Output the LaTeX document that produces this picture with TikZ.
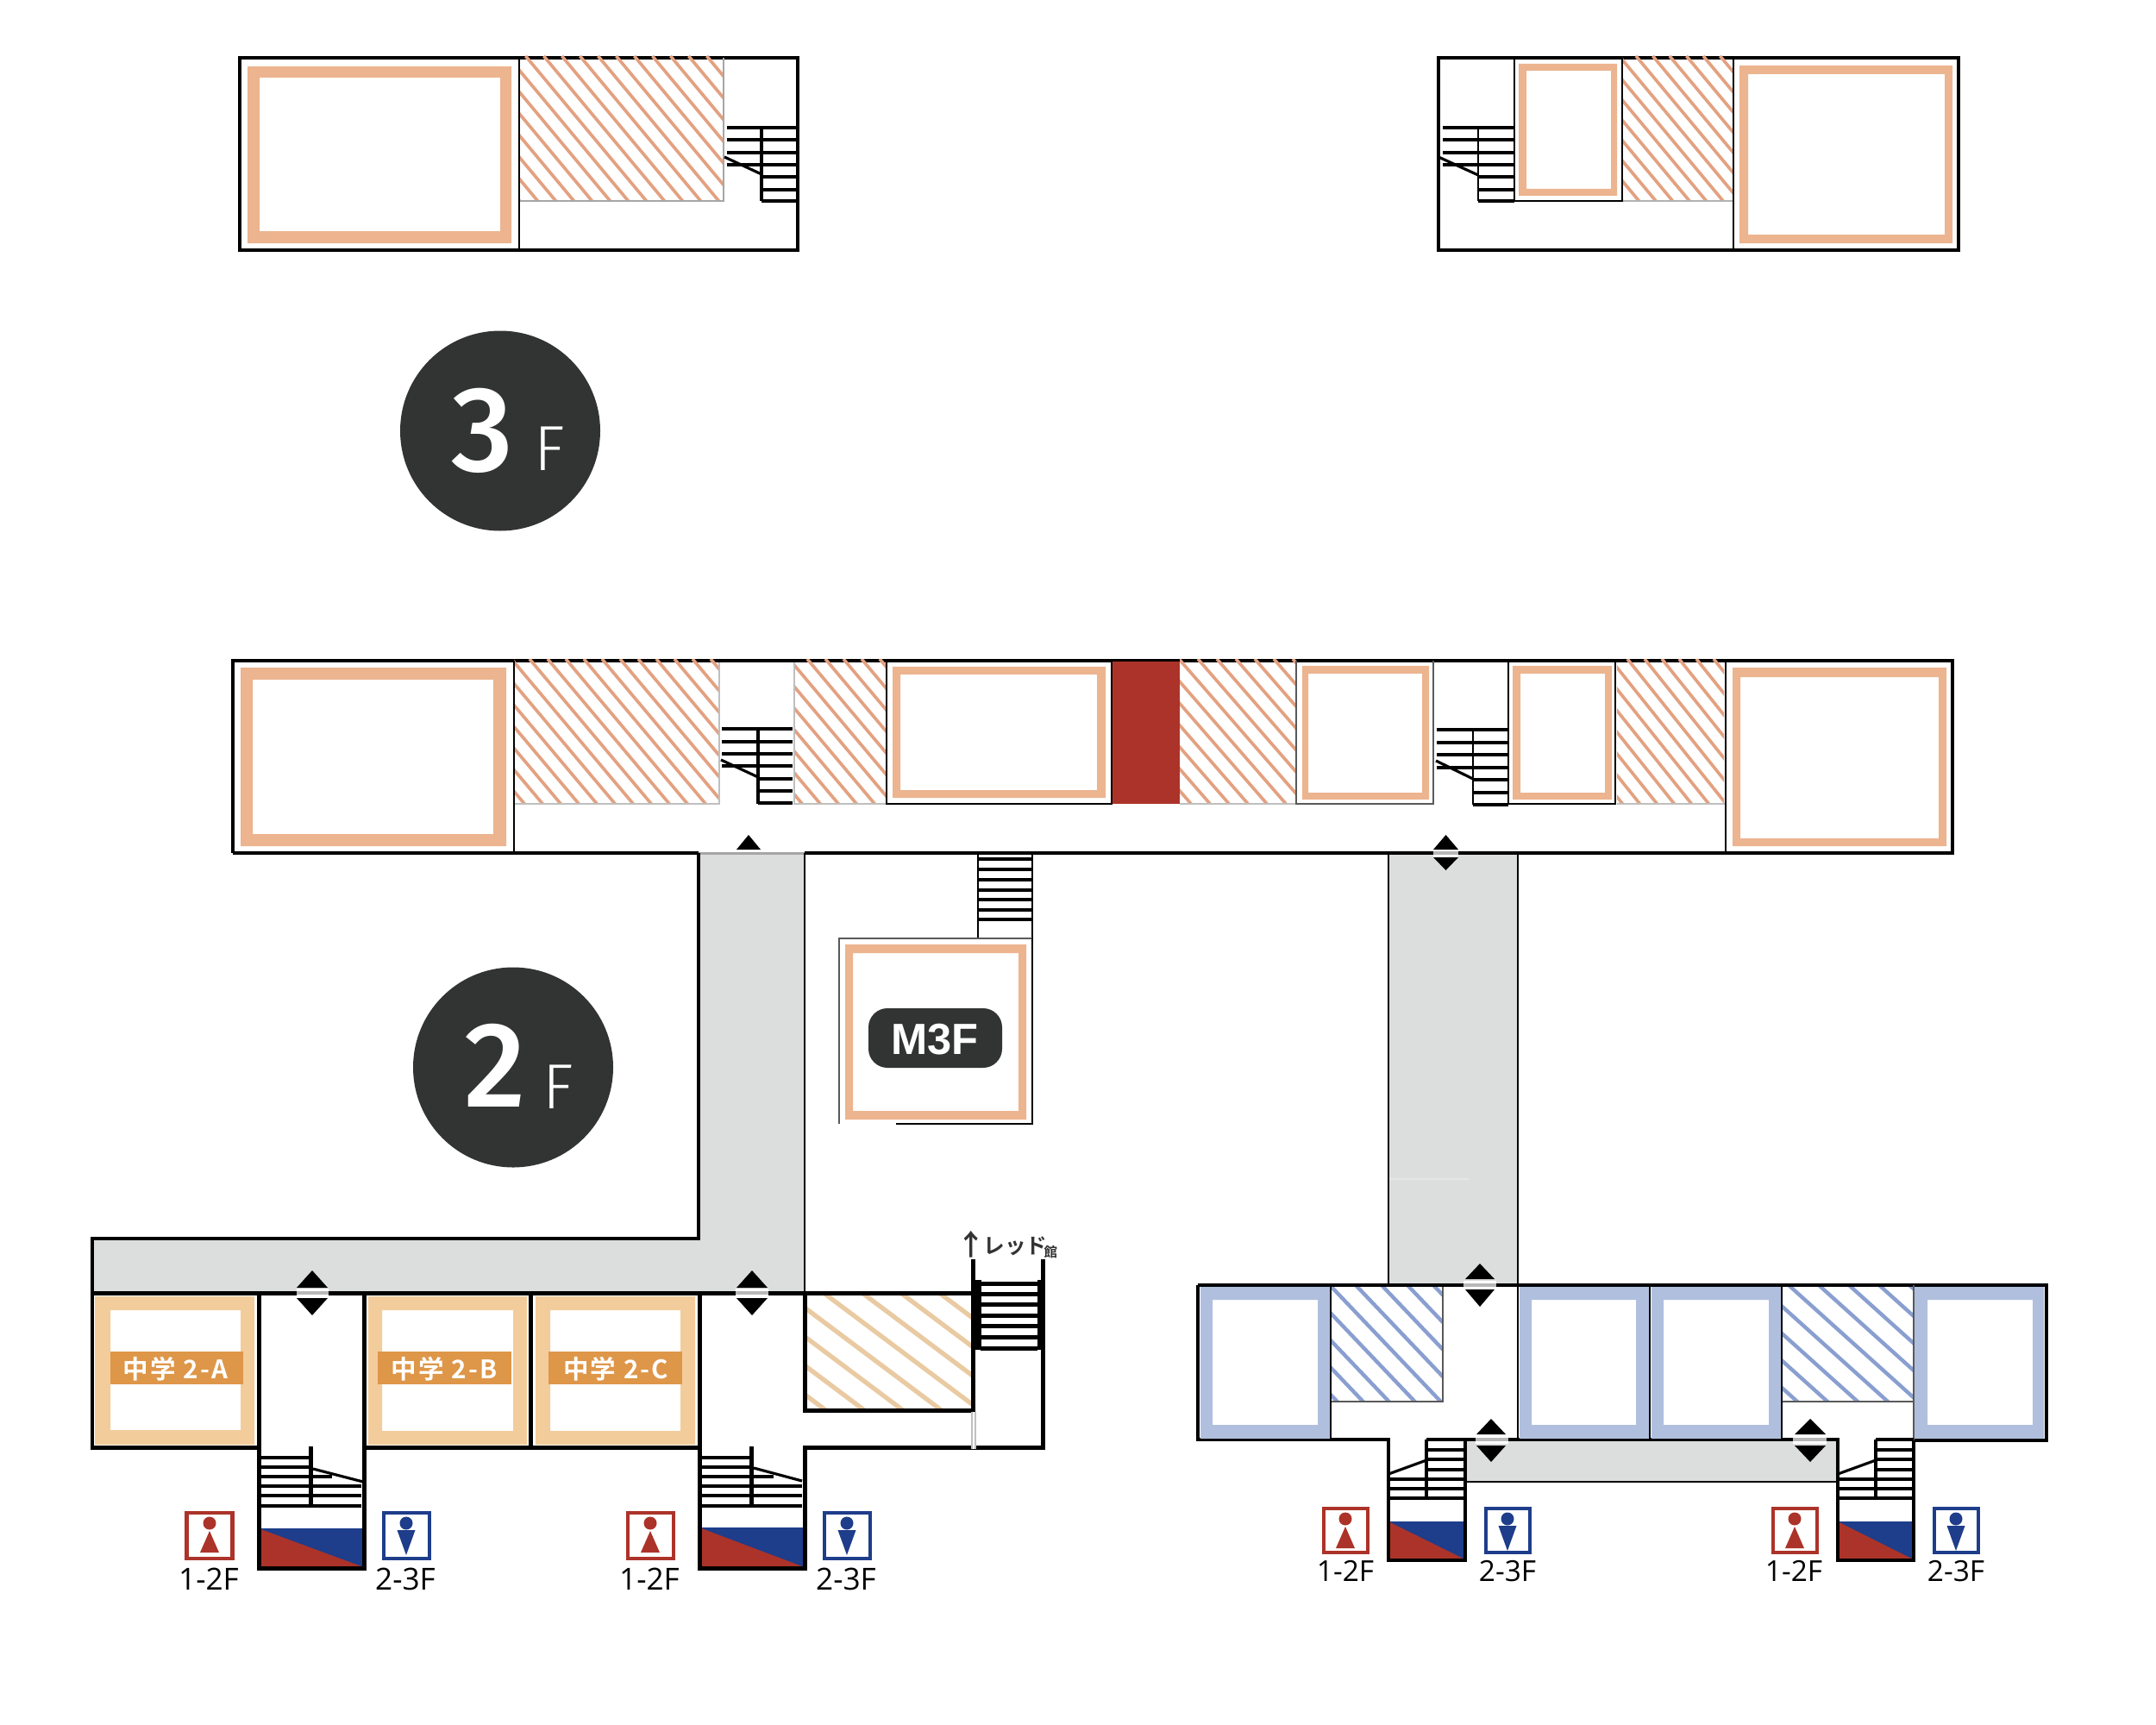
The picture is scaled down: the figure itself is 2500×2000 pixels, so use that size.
\documentclass[tikz,border=0pt]{standalone}
\usepackage{fontspec}
\setmainfont{Open Sans}
\newfontfamily\numf{Fira Sans}[UprightFont={* Medium}]
\newfontfamily\thinf{Fira Sans}[UprightFont={* Light}]
\newfontfamily\boldf{Liberation Sans}[UprightFont={* Bold}]
\newfontfamily\jpf{Noto Sans CJK JP}[UprightFont={* Bold},LetterSpace=7]
\newfontfamily\jpb{Noto Sans CJK JP}[UprightFont={* Bold}]
\definecolor{pinkring}{HTML}{ECB48F}
\definecolor{pinkhatch}{HTML}{E3A181}
\definecolor{orring}{HTML}{F3CC9B}
\definecolor{orlabel}{HTML}{DE9648}
\definecolor{tanhatch}{HTML}{E9CAA2}
\definecolor{bluering}{HTML}{B0BFDE}
\definecolor{bluehatch}{HTML}{8A9FD0}
\definecolor{corridor}{HTML}{DCDEDD}
\definecolor{wcred}{HTML}{AC3329}
\definecolor{wcblue}{HTML}{1E3D8A}
\definecolor{darkdisc}{HTML}{323433}
\tikzset{
  wallthin/.style={draw=black,line width=0.8pt},
  wall/.style={draw=black,line width=1.0pt},
  wallthick/.style={draw=black,line width=1.42pt},
  wallgrey/.style={draw=black!65,line width=0.8pt},
  tread/.style={draw=black,line width=0.9pt},
  wcframe/.style={line width=1.14pt,fill=white},
  wclabel/.style={anchor=base,inner sep=0pt,font=\fontsize{10pt}{12pt}\selectfont},
  wclabelr/.style={anchor=base,inner sep=0pt,font=\fontsize{9.5pt}{12pt}\selectfont},
  classlabel/.style={anchor=base,inner sep=0pt,text=white,font=\jpf\fontsize{8.4pt}{10pt}\selectfont},
  bignum/.style={anchor=base,inner sep=0pt,text=white,font=\numf\fontsize{40pt}{44pt}\selectfont},
  bigf/.style={anchor=base,inner sep=0pt,text=white,font=\thinf\fontsize{21pt}{24pt}\selectfont},
}
% colour,width,x1,y1,x2,y2,x0,spacing,slope
\newcommand\hatchbox[9]{%
  \begin{scope}
    \clip (#3,#4) rectangle (#5,#6);
    \foreach \i in {-30,...,30}
      \draw[#1,line width=#2,line cap=butt] ({#7+\i*#8},#4) -- ++(600,{600*#9});
  \end{scope}}
\newcommand\ring[9]{%
  \fill[#1,even odd rule] (#2,#3) rectangle (#4,#5) (#6,#7) rectangle (#8,#9);}
% x, up top, up base, down base, down tip, half width
\newcommand\updown[6]{%
  \fill[black] (#1,#2) -- (#1+#6,#3) -- (#1-#6,#3) -- cycle;
  \fill[black] (#1,#5) -- (#1+#6,#4) -- (#1-#6,#4) -- cycle;}
% x1 x2 y : white break in a wall with a grey trace
\newcommand\wallgap[3]{%
  \fill[white] (#1,#3-5) rectangle (#2,#3+5);
  \draw[black!28,line width=0.9pt] (#1,#3) -- (#2,#3);}
% centre x, top, half size
\newcommand\wcw[3]{%
  \draw[wcred,wcframe] (#1-#3,#2+2) rectangle (#1+#3,#2+2+2*#3);
  \fill[wcred] (#1,#2+14) circle (7.5);
  \fill[wcred] (#1,#2+23) -- (#1+11,#2+48) -- (#1-11,#2+48) -- cycle;}
\newcommand\wcm[3]{%
  \draw[wcblue,wcframe] (#1-#3,#2+2) rectangle (#1+#3,#2+2+2*#3);
  \fill[wcblue] (#1,#2+14) circle (7.5);
  \fill[wcblue] (#1-10.5,#2+22) -- (#1+10.5,#2+22) -- (#1,#2+51) -- cycle;}
% x1 x2 y1 y2 : two-colour block
\newcommand\wcblock[4]{%
  \fill[wcred] (#1,#3) rectangle (#2,#4);
  \fill[wcblue] (#1,#3) -- (#2,#3) -- (#2,#4-1) -- cycle;}
\begin{document}
\begin{tikzpicture}[x=0.01cm,y=-0.01cm]
\useasboundingbox (0,0) rectangle (2500,2000);

%%%%% 3F left
\draw[wall] (278,67) rectangle (925,290);
\hatchbox{pinkhatch}{1.05pt}{602}{65}{839}{233}{609.5}{21}{1.2}
\draw[black!35,line width=0.5pt] (839,67) -- (839,233) -- (602,233);
\draw[wallthin] (602,67) -- (602,290);
\ring{pinkring}{287}{77}{593}{282}{301}{90}{580}{268}
\foreach \y in {148,162,177,191} \draw[tread] (843,\y) -- (925,\y);
\foreach \y in {205,220,233} \draw[tread] (883,\y) -- (925,\y);
\draw[wall] (883,148) -- (883,233);
\draw[tread] (840,182) -- (883,202);

%%%%% 3F right
\draw[wall] (1668,67) rectangle (2271,290);
\hatchbox{pinkhatch}{1.05pt}{1881}{65}{2010}{233}{1897}{19.5}{1.2}
\draw[black!30,line width=0.5pt] (1881,233) -- (2010,233);
\draw[wallthin] (1756,67) -- (1756,233) -- (1881,233) -- (1881,67);
\draw[wallthin] (2010,67) -- (2010,290);
\ring{pinkring}{1761}{74}{1875}{227}{1770}{82}{1868}{219}
\ring{pinkring}{2017}{76}{2264}{282}{2027}{86}{2255}{272}
\foreach \y in {148,162,177,191} \draw[tread] (1673,\y) -- (1756,\y);
\foreach \y in {205,220,233} \draw[tread] (1714,\y) -- (1756,\y);
\draw[wallthin] (1714,148) -- (1714,233);
\draw[tread] (1668,182) -- (1714,203);

%%%%% Floor discs
\fill[darkdisc] (580,499.5) circle (116);
\node[bignum] (threef) at (559,546) {3};
\node[bigf] (threefF) at (637,545) {F};
\fill[darkdisc] (595,1237.5) circle (116);
\node[bignum] (twof) at (574,1283) {2};
\node[bigf] (twofF) at (647,1285) {F};

%%%%% Corridors
\fill[corridor] (107,1436) -- (810,1436) -- (810,989) -- (933,989) -- (933,1499) -- (107,1499) -- cycle;
\fill[corridor] (1610,989) rectangle (1760,1490);
\draw[white!90!black,line width=0.5pt] (1610,1367) -- (1703,1367);
\fill[corridor] (1699,1669) rectangle (2131,1718);

%%%%% 2F main block
\draw[wall] (270,989) -- (270,766) -- (2264,766) -- (2264,989) -- (933,989);
\draw[wall] (270,989) -- (810,989);
\draw[black!35,line width=0.85pt] (810,989) -- (933,989);
\hatchbox{pinkhatch}{1.05pt}{596}{764}{834}{932}{614}{21}{1.19}
\hatchbox{pinkhatch}{1.05pt}{921}{764}{1027}{932}{936}{21}{1.19}
\hatchbox{pinkhatch}{1.05pt}{1368}{764}{1503}{932}{1389}{22}{1.15}
\hatchbox{pinkhatch}{1.05pt}{1875}{764}{1999}{932}{1887}{20}{1.25}
\draw[black!25,line width=0.5pt] (596,932) -- (834,932) -- (834,768);
\draw[black!25,line width=0.5pt] (921,768) -- (921,932) -- (1027,932);
\draw[black!25,line width=0.5pt] (1368,932) -- (1503,932);
\draw[black!25,line width=0.5pt] (1875,932) -- (2000,932);
\fill[wcred] (1290,767) rectangle (1368,932);
\draw[wallthin] (596,766) -- (596,989);
\draw[wallthin] (1028,766) -- (1028,932) -- (1289,932) -- (1289,766);
\draw[wallgrey] (1503,766) -- (1503,932) -- (1662,932) -- (1662,766);
\draw[wallthin] (1749,766) -- (1749,932) -- (1873,932) -- (1873,766);
\draw[wallthin] (2001,766) -- (2001,989);
\ring{pinkring}{279}{774}{587}{981}{293}{788}{572}{967}
\ring{pinkring}{1035}{773}{1282}{925}{1044}{782}{1272}{916}
\ring{pinkring}{1510}{772}{1657}{927}{1517}{781}{1649}{919}
\ring{pinkring}{1754}{772}{1869}{927}{1763}{781}{1861}{919}
\ring{pinkring}{2009}{774}{2257}{981}{2018}{785}{2248}{972}
% stairs in main block
\foreach \y in {845,860,874,888} \draw[tread] (837,\y) -- (919,\y);
\foreach \y in {903,917} \draw[tread] (879,\y) -- (919,\y);
\draw[wall] (879,931) -- (919,931);
\draw[wall] (879,845) -- (879,932);
\draw[tread] (836,881) -- (879,901);
\foreach \y in {846,861,875,890,904,919,933} \draw[tread] (1708,\y) -- (1749,\y);
\foreach \y in {846,861,875,890} \draw[tread] (1666,\y) -- (1708,\y);
\draw[wallthin] (1708,846) -- (1708,933);
\draw[tread] (1665,882) -- (1708,903);
% arrows on main block
\fill[black] (868,968) -- (882,985) -- (854,985) -- cycle;
\wallgap{1662}{1691}{989}
\updown{1676.5}{968}{985}{994}{1009}{14.5}

%%%%% Long corridor edges
\draw[wall] (810,989) -- (810,1436) -- (107,1436) -- (107,1499);
\draw[wallthin] (933,989) -- (933,1499);
\draw[wallthin] (1610,989) -- (1610,1490);
\draw[wallthin] (1760,989) -- (1760,1490);

%%%%% M3F block
\foreach \y in {996,1008,1020,1032,1043,1055,1066} \draw[tread] (1134,\y) -- (1197,\y);
\draw[wallthin] (1134,989) -- (1134,1088);
\draw[wallthin] (1197,989) -- (1197,1088);
\draw[wallgrey] (973,1303) -- (973,1088) -- (1197,1088);
\draw[wallthin] (1197,1088) -- (1197,1303) -- (1039,1303);
\ring{pinkring}{980}{1095}{1190}{1298}{989}{1105}{1181}{1288}
\node[rectangle,rounded corners=2.2mm,fill=darkdisc,minimum width=155*0.01cm,minimum height=69*0.01cm,inner sep=0pt] (pill) at (1084.5,1203.5) {};
\node[anchor=base,inner sep=0pt,text=white,font=\boldf\fontsize{14.4pt}{18pt}\selectfont] (mthree) at (1084,1222) {M3F};

%%%%% Lower-left block
\draw[wallthick] (107,1499) -- (1128,1499);
\draw[wallthick] (107,1499) -- (107,1678) -- (300,1678);
\draw[wallthick] (300,1499) -- (300,1818) -- (422,1818) -- (422,1499);
\draw[wallthick] (615.5,1499) -- (615.5,1678);
\draw[wallthick] (422,1678) -- (811,1678);
\draw[wallthick] (811,1499) -- (811,1818) -- (933,1818) -- (933,1678) -- (1209,1678) -- (1209,1460);
\ring{orring}{110}{1503}{295}{1675}{128}{1519}{279}{1658}
\ring{orring}{427}{1503}{611}{1675}{443}{1519}{595}{1659}
\ring{orring}{621}{1503}{806}{1675}{638}{1519}{789}{1659}
\fill[orlabel] (128,1567) rectangle (282,1605);
\fill[orlabel] (438,1567) rectangle (593,1605);
\fill[orlabel] (636,1567) rectangle (791,1605);
\node[classlabel] (classa) at (203.5,1598) {中学 2-A};
\node[classlabel] (classb) at (515,1598) {中学 2-B};
\node[classlabel] (classc) at (714,1598) {中学 2-C};
% tan hatched room
\hatchbox{tanhatch}{1.5pt}{933}{1499}{1128}{1635}{955}{44.7}{0.75}
\draw[wallthick] (933,1499) -- (933,1635) -- (1128,1635) -- (1128,1460);
\draw[wallthick] (933,1499) -- (1128,1499);
% stair to red building
\fill[black] (1127.5,1484) rectangle (1137.5,1565);
\fill[black] (1202.5,1484) rectangle (1209.5,1565);
\foreach \y in {1488,1500,1512,1525,1537,1550,1563} \draw[wallthick] (1137,\y) -- (1203,\y);
\fill[white] (1126,1637) rectangle (1131,1680);
\draw[black!25,line width=0.4pt] (1127,1637) -- (1127,1680) (1131,1637) -- (1131,1680);
\node[anchor=base,inner sep=0pt,text=black!80,font=\jpb\fontsize{9.5pt}{10pt}\selectfont] (redarrow) at (1126,1455) {↑};
\node[anchor=base west,inner sep=0pt,text=black!80,font=\jpb\fontsize{7pt}{9pt}\selectfont] (redhall) at (1140,1453) {レッド};
\node[anchor=base west,inner sep=0pt,text=black!80,font=\jpb\fontsize{4.4pt}{6pt}\selectfont] (redhallb) at (1210,1457) {館};
% stairs lower-left
\foreach \y in {1690,1701,1712} \draw[tread] (300,\y) -- (360,\y);
\foreach \y in {1723,1734,1746} \draw[tread] (300,\y) -- (419,\y);
\draw[tread] (360,1712) -- (385,1712);
\draw[wallthick] (360,1677) -- (360,1748);
\draw[tread] (363,1703) -- (421,1718);
\foreach \y in {1690,1701,1712} \draw[tread] (811,\y) -- (871,\y);
\foreach \y in {1723,1734,1746} \draw[tread] (811,\y) -- (930,\y);
\draw[tread] (871,1712) -- (897,1712);
\draw[wallthick] (871,1677) -- (871,1748);
\draw[tread] (874,1702) -- (930,1717);
% wc blocks
\wcblock{300}{422}{1772}{1818}
\wcblock{811}{933}{1771}{1818}
\draw[wallthick] (300,1772) -- (300,1818) -- (422,1818) -- (422,1772);
\draw[wallthick] (811,1771) -- (811,1818) -- (933,1818) -- (933,1771);
\wcw{243}{1752}{26.5}
\wcm{471}{1752}{26.5}
\wcw{754}{1752}{26.5}
\wcm{982}{1752}{26.5}
\node[wclabel] (la) at (242,1843) {1-2F};
\node[wclabel] (lb) at (470,1843) {2-3F};
\node[wclabel] (lc) at (753,1843) {1-2F};
\node[wclabel] (ld) at (981,1843) {2-3F};
% arrows lower-left
\wallgap{344}{381}{1499}
\updown{362}{1473}{1493}{1505}{1525}{18}
\wallgap{853}{891}{1499}
\updown{872}{1473}{1493}{1505}{1525}{18}

%%%%% Lower-right block
\draw[wall] (1389,1490) -- (2373,1490) -- (2373,1670) -- (2219,1670);
\hatchbox{bluehatch}{1.25pt}{1543}{1490}{1673}{1625}{1572}{30}{1.05}
\hatchbox{bluehatch}{1.25pt}{2066}{1490}{2219}{1625}{2074}{35}{0.9}
\draw[wallgrey] (1543,1625) -- (1673,1625) -- (1673,1490);
\draw[wallgrey] (2066,1625) -- (2219,1625);
\draw[wall] (1389,1490) -- (2373,1490);
\draw[wall] (1389,1490) -- (1389,1669) -- (1610,1669) -- (1610,1809) -- (1699,1809) -- (1699,1669) -- (2131,1669) -- (2131,1809) -- (2219,1809) -- (2219,1669);
\draw[wallthin] (1699,1718) -- (2131,1718);
\draw[wallthin] (1543,1490) -- (1543,1669);
\draw[wallthin] (1760,1490) -- (1760,1669);
\draw[wallthin] (1913,1490) -- (1913,1669);
\draw[wallthin] (2066,1490) -- (2066,1669);
\draw[wallgrey] (2219,1490) -- (2219,1670);
\ring{bluering}{1392}{1492}{1542}{1668}{1406}{1507}{1528}{1652}
\ring{bluering}{1762}{1492}{1912}{1668}{1776}{1507}{1897}{1652}
\ring{bluering}{1915}{1492}{2065}{1668}{1929}{1507}{2051}{1652}
\ring{bluering}{2220}{1492}{2370}{1668}{2235}{1507}{2357}{1652}
% stairs lower-right
\foreach \y in {1669,1681,1692,1704,1715,1726,1737} \draw[tread] (1654,\y) -- (1699,\y);
\foreach \y in {1715,1726,1737} \draw[tread] (1610,\y) -- (1654,\y);
\draw[wall] (1654,1669) -- (1654,1738);
\draw[tread] (1610,1709) -- (1654,1693);
\foreach \y in {1669,1681,1692,1704,1715,1726,1737} \draw[tread] (2175,\y) -- (2219,\y);
\foreach \y in {1715,1726,1737} \draw[tread] (2131,\y) -- (2175,\y);
\draw[wall] (2175,1669) -- (2175,1738);
\draw[tread] (2131,1709) -- (2175,1693);
% wc blocks
\wcblock{1610}{1699}{1764}{1809}
\wcblock{2131}{2219}{1764}{1809}
\draw[wall] (1610,1764) -- (1610,1809) -- (1699,1809) -- (1699,1764);
\draw[wall] (2131,1764) -- (2131,1809) -- (2219,1809) -- (2219,1764);
\wcw{1560}{1747}{25.5}
\wcm{1748}{1747}{25.5}
\wcw{2081}{1747}{25.5}
\wcm{2268}{1747}{25.5}
\node[wclabelr] (le) at (1560,1833) {1-2F};
\node[wclabelr] (lf) at (1748,1833) {2-3F};
\node[wclabelr] (lg) at (2080,1833) {1-2F};
\node[wclabelr] (lh) at (2268,1833) {2-3F};
% arrows lower-right
\wallgap{1697}{1735}{1490}
\updown{1716}{1465}{1483}{1495}{1515}{17}
\wallgap{1711}{1749}{1669}
\updown{1729}{1645}{1663}{1676}{1695}{17}
\wallgap{2079}{2118}{1669}
\updown{2099}{1645}{1663}{1676}{1695}{18}
\end{tikzpicture}
\end{document}
